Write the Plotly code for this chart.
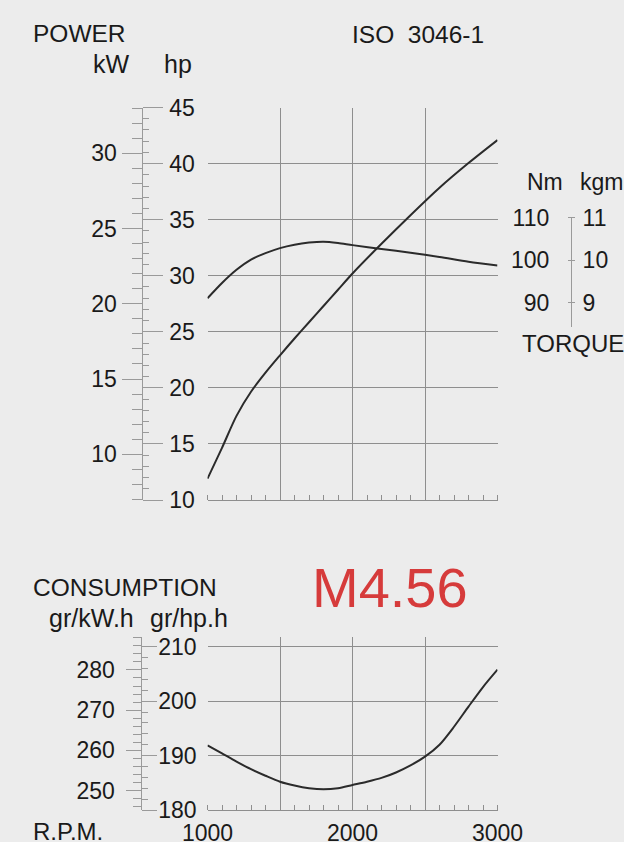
import plotly.graph_objects as go

# ---------------- data ----------------
rpm_power = [1000, 1100, 1200, 1300, 1400, 1500, 1600, 1700, 1800, 1900,
             2000, 2200, 2400, 2600, 2800, 3000]
power_hp = [11.9, 14.65, 17.5, 19.65, 21.35, 22.9, 24.4, 25.85, 27.3, 28.75,
            30.2, 32.85, 35.4, 37.85, 40.05, 42.1]

rpm_torque = [1000, 1100, 1200, 1300, 1400, 1500, 1600, 1700, 1800, 1900,
              2000, 2200, 2400, 2600, 2800, 3000]
torque_nm = [91.0, 94.6, 97.7, 100.1, 101.6, 102.8, 103.6, 104.1, 104.3, 104.0,
             103.5, 102.6, 101.7, 100.7, 99.6, 98.7]

rpm_cons = [1000, 1100, 1200, 1300, 1400, 1500, 1600, 1700, 1800, 1900, 2000,
            2100, 2200, 2300, 2400, 2500, 2600, 2700, 2800, 2900, 3000]
cons_ghp = [191.9, 190.4, 188.9, 187.5, 186.3, 185.2, 184.5, 184.0, 183.8, 184.0, 184.6,
            185.2, 185.9, 186.9, 188.2, 189.8, 192.0, 195.3, 199.0, 202.6, 205.8]

rpm_ticks = [1000, 1500, 2000, 2500, 3000]
rpm_labels = ["1000", "", "2000", "", "3000"]
hp_ticks = [10, 15, 20, 25, 30, 35, 40, 45]
kw_ticks = [10, 15, 20, 25, 30]
nm_ticks = [90, 100, 110]
kgm_ticks = [9, 10, 11]
ghp_ticks = [180, 190, 200, 210]
gkw_ticks = [250, 260, 270, 280]

# ---------------- layout helpers ----------------
W, H = 624, 842
def fx(px):
    return px / W
def fy(py):
    return 1 - py / H

FONT = "Liberation Sans, Arial, sans-serif"
TXT = "#1a1a1a"
GRID = "#8e8e8e"
RULER = "#9a9a9a"
CURVE = "#2b2b2b"
BG = "#ececec"

x_dom = [fx(207.5), fx(497.5)]
top_dom = [fy(500), fy(107.5)]
bot_dom = [fy(810), fy(637)]
ruler_top = fx(141.5)
ruler_bot = fx(140.5)
torque_pos = fx(571)
torque_dom = [fy(326.7), fy(216.7)]

tickfont = dict(family=FONT, size=23, color=TXT)

fig = go.Figure()
fig.add_trace(go.Scatter(x=rpm_power, y=power_hp, mode="lines", line=dict(color=CURVE, width=2, shape="spline", smoothing=0.8),
                         xaxis="x", yaxis="y", hoverinfo="skip", showlegend=False))
fig.add_trace(go.Scatter(x=rpm_torque, y=torque_nm, mode="lines", line=dict(color=CURVE, width=2, shape="spline", smoothing=0.8),
                         xaxis="x", yaxis="y3", hoverinfo="skip", showlegend=False))
fig.add_trace(go.Scatter(x=rpm_cons, y=cons_ghp, mode="lines", line=dict(color=CURVE, width=2, shape="spline", smoothing=0.8),
                         xaxis="x2", yaxis="y6", hoverinfo="skip", showlegend=False))
# empty traces so that the secondary scales are drawn
for xa, ya in [("x", "y2"), ("x3", "y4"), ("x3", "y5"), ("x2", "y7")]:
    fig.add_trace(go.Scatter(x=[], y=[], xaxis=xa, yaxis=ya, showlegend=False, hoverinfo="skip"))

xcommon = dict(domain=x_dom, range=[1000, 3000], showgrid=True, gridcolor=GRID, gridwidth=1.3,
               tickvals=rpm_ticks, ticks="", zeroline=False, showline=True, linecolor=GRID, linewidth=1.3,
               automargin=False,
               minor=dict(dtick=100, tick0=1000, ticks="inside", ticklen=5, tickcolor=GRID, tickwidth=1, showgrid=False))

fig.update_layout(
    width=W, height=H, autosize=False, margin=dict(l=0, r=0, t=0, b=0, pad=0, autoexpand=False),
    paper_bgcolor=BG, plot_bgcolor="rgba(0,0,0,0)", showlegend=False,
    xaxis=dict(**xcommon, anchor="y", showticklabels=False),
    xaxis2=dict(**xcommon, anchor="y6", ticktext=rpm_labels, showticklabels=True, tickfont=tickfont,
                ticklabelstandoff=2),
    xaxis3=dict(domain=x_dom, range=[1000, 3000], visible=False, anchor="y4"),
    # hp scale (top)
    yaxis=dict(domain=top_dom, range=[10, 45], anchor="free", position=ruler_top, side="right",
               tickvals=hp_ticks, ticks="outside", ticklen=20, tickcolor=RULER, tickwidth=1.3,
               showline=True, linecolor=RULER, linewidth=1.3, showgrid=True, gridcolor=GRID, gridwidth=1.3,
               zeroline=False, tickfont=tickfont, ticklabelstandoff=2, automargin=False,
               minor=dict(dtick=1, tick0=10, ticks="outside", ticklen=6, tickcolor=RULER, tickwidth=1, showgrid=False)),
    # kW scale (top)
    yaxis2=dict(overlaying="y", range=[6.963, 33.04], anchor="free", position=ruler_top, side="left",
                tickvals=kw_ticks, ticks="outside", ticklen=20, tickcolor=RULER, tickwidth=1.3,
                showline=False, showgrid=False, zeroline=False, tickfont=tickfont, ticklabelstandoff=0,
                automargin=False,
                minor=dict(dtick=1, tick0=10, ticks="outside", ticklen=10, tickcolor=RULER, tickwidth=1, showgrid=False)),
    # torque curve scale (hidden)
    yaxis3=dict(overlaying="y", range=[43.53, 135.88], visible=False),
    # Nm ruler
    yaxis4=dict(domain=torque_dom, range=[84.31, 110.19], anchor="free", position=torque_pos, side="left",
                tickvals=nm_ticks, ticks="outside", ticklen=3, tickcolor=RULER, showline=True, linecolor=RULER,
                linewidth=1.3, showgrid=False, zeroline=False, tickfont=tickfont, ticklabelstandoff=14,
                automargin=False),
    # kgm ruler
    yaxis5=dict(overlaying="y4", range=[8.431, 11.019], anchor="free", position=torque_pos, side="right",
                tickvals=kgm_ticks, ticks="outside", ticklen=3, tickcolor=RULER, showline=False,
                showgrid=False, zeroline=False, tickfont=tickfont, ticklabelstandoff=3, automargin=False),
    # gr/hp.h (bottom)
    yaxis6=dict(domain=bot_dom, range=[180, 211.8], anchor="free", position=ruler_bot, side="right",
                tickvals=ghp_ticks, ticks="outside", ticklen=15, tickcolor=RULER, tickwidth=1.3,
                showline=True, linecolor=RULER, linewidth=1.3, showgrid=True, gridcolor=GRID, gridwidth=1.3,
                zeroline=False, tickfont=tickfont, ticklabelstandoff=-3, automargin=False,
                minor=dict(dtick=2, tick0=180, ticks="outside", ticklen=6, tickcolor=RULER, tickwidth=1, showgrid=False)),
    # gr/kW.h (bottom)
    yaxis7=dict(overlaying="y6", range=[245.15, 288.2], anchor="free", position=ruler_bot, side="left",
                tickvals=gkw_ticks, ticks="outside", ticklen=15, tickcolor=RULER, tickwidth=1.3,
                showline=False, showgrid=False, zeroline=False, tickfont=tickfont, ticklabelstandoff=6,
                automargin=False,
                minor=dict(dtick=2, tick0=246, ticks="outside", ticklen=8, tickcolor=RULER, tickwidth=1, showgrid=False)),
)

def label(text, px, py, anchor="center", size=24, color=TXT):
    fig.add_annotation(text=text, x=fx(px), y=fy(py), xref="paper", yref="paper", showarrow=False,
                       xanchor=anchor, yanchor="middle", font=dict(family=FONT, size=size, color=color))

label("POWER", 31, 33, "left", size=24.5)
label("kW", 111, 64, size=25)
label("hp", 178, 64, size=25)
label("ISO\u00a0 3046-1", 418, 34, size=24.5)
label("Nm", 545, 182, size=23)
label("kgm", 578, 182, "left", size=23)
label("TORQUE", 520, 343, "left", size=24)
label("CONSUMPTION", 31, 587, "left", size=24.5)
label("gr/kW.h", 91, 618, size=25)
label("gr/hp.h", 189, 618, size=25)
label("M4.56", 389.5, 587, size=56, color="#d63b3b")
label("R.P.M.", 31, 831, "left", size=24)

fig.write_html("out.html", config={"responsive": False, "displayModeBar": False},
               post_script="document.body.style.margin='0';document.body.style.background='%s';" % BG)
